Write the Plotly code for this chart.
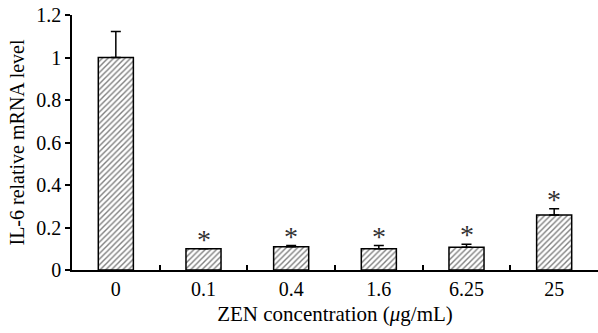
import plotly.graph_objects as go

categories = ["0", "0.1", "0.4", "1.6", "6.25", "25"]
values = [1.0, 0.10, 0.11, 0.10, 0.107, 0.259]
errors = [0.122, 0.0, 0.005, 0.015, 0.014, 0.029]
marks = ["", "*", "*", "*", "*", "*"]

FONT = "Liberation Serif"

fig = go.Figure()
fig.add_trace(go.Bar(
    x=categories, y=values, width=0.4,
    marker=dict(color="white", line=dict(color="black", width=1.5),
                pattern=dict(shape="/", fgcolor="black", bgcolor="white", size=4, solidity=0.35)),
    error_y=dict(type="data", array=errors, arrayminus=[0]*len(errors), symmetric=False,
                 color="black", thickness=1.5, width=5),
))

for i, (v, e, m) in enumerate(zip(values, errors, marks)):
    if m:
        fig.add_annotation(x=i, y=v + e, text=m, showarrow=False, yanchor="bottom",
                           yshift=-8, font=dict(family=FONT, size=28, color="#333"))

fig.update_layout(
    width=598, height=333,
    margin=dict(l=72, r=0, t=15, b=63),
    paper_bgcolor="white", plot_bgcolor="white",
    showlegend=False,
    font=dict(family=FONT, size=20, color="black"),
)
fig.update_xaxes(
    type="category", range=[-0.5, 5.5],
    showline=True, linecolor="black", linewidth=1.5,
    ticks="inside", tickson="boundaries", ticklen=5, tickwidth=1.5, tickcolor="black",
    showgrid=False, zeroline=False,
    tickfont=dict(family=FONT, size=20),
    title=dict(text="ZEN concentration (<i>μ</i>g/mL)", font=dict(family=FONT, size=21), standoff=8),
)
fig.update_yaxes(
    range=[0, 1.2], dtick=0.2,
    showline=True, linecolor="black", linewidth=1.5,
    ticks="outside", ticklen=5, tickwidth=1.5, tickcolor="black",
    showgrid=False, zeroline=False,
    tickfont=dict(family=FONT, size=20),
    title=dict(text="IL-6 relative mRNA level", font=dict(family=FONT, size=20), standoff=6),
)

fig.write_html("out.html", config={"displayModeBar": False},
               post_script="document.body.style.margin='0';document.body.style.overflow='hidden';")
